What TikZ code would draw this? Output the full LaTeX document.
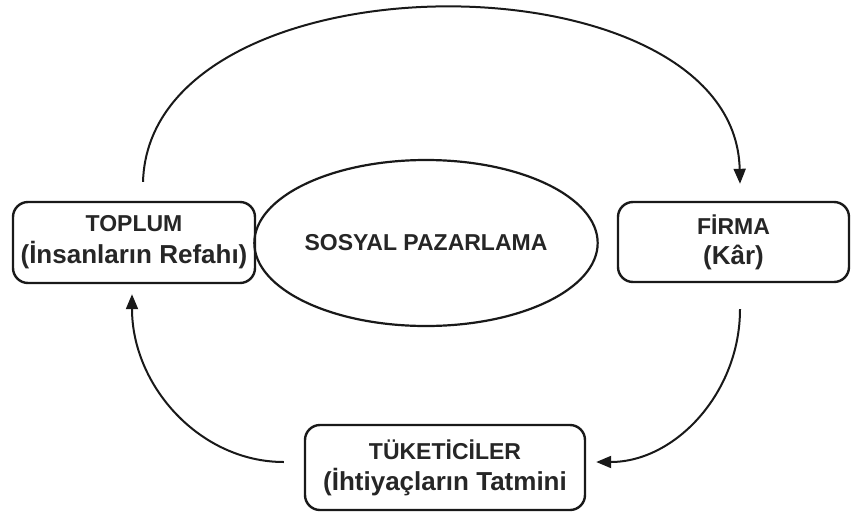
\documentclass[tikz,border=0pt]{standalone}
\usepackage{fontspec}
\setmainfont{Liberation Sans}
\usetikzlibrary{arrows.meta,shapes.geometric}
\newcommand{\subline}[1]{\fontsize{26}{30}\selectfont #1}
\begin{document}
\begin{tikzpicture}[x=1pt,y=-1pt,
  boxstyle/.style={draw=black!90, line width=2.4pt, rounded corners=15pt, inner sep=0pt, align=center,
    font=\fontsize{23}{30}\selectfont\bfseries, text=black!85},
  ellstyle/.style={draw=black!90, ellipse, line width=2.2pt, inner sep=0pt,
    font=\fontsize{23}{28}\selectfont\bfseries, text=black!85},
  arr/.style={draw=black!90, line width=2pt, -{Triangle[length=15pt,width=12pt]}}]
\useasboundingbox (0,0) rectangle (852,512);
\node[boxstyle, minimum width=242pt, minimum height=81pt] (toplum) at (134,242.5) {TOPLUM\\[2pt]\subline{(İnsanların Refahı)}};
\node[boxstyle, minimum width=231pt, minimum height=80pt] (firma) at (733.5,242) {FİRMA\\\subline{(Kâr)}};
\node[boxstyle, minimum width=280pt, minimum height=85pt] (tuk) at (445,467.5) {TÜKETİCİLER\\[1pt]\subline{(İhtiyaçların Tatmini}};
\node[ellstyle, minimum width=304pt, minimum height=166pt] (sosyal) at (426,243) {SOSYAL PAZARLAMA};
\draw[arr] ([xshift=9pt,yshift=19pt]toplum.north) .. controls (150,-50) and (735,-50) .. ([xshift=6.5pt,yshift=17pt]firma.north);
\draw[arr] ([xshift=6.5pt,yshift=-26pt]firma.south) .. controls (740,393) and (675,462) .. ([xshift=10pt,yshift=5.5pt]tuk.east);
\draw[arr] ([xshift=-20pt,yshift=5.5pt]tuk.west) .. controls (200,462) and (132,386) .. ([xshift=-2pt,yshift=-10pt]toplum.south);
\end{tikzpicture}
\end{document}
